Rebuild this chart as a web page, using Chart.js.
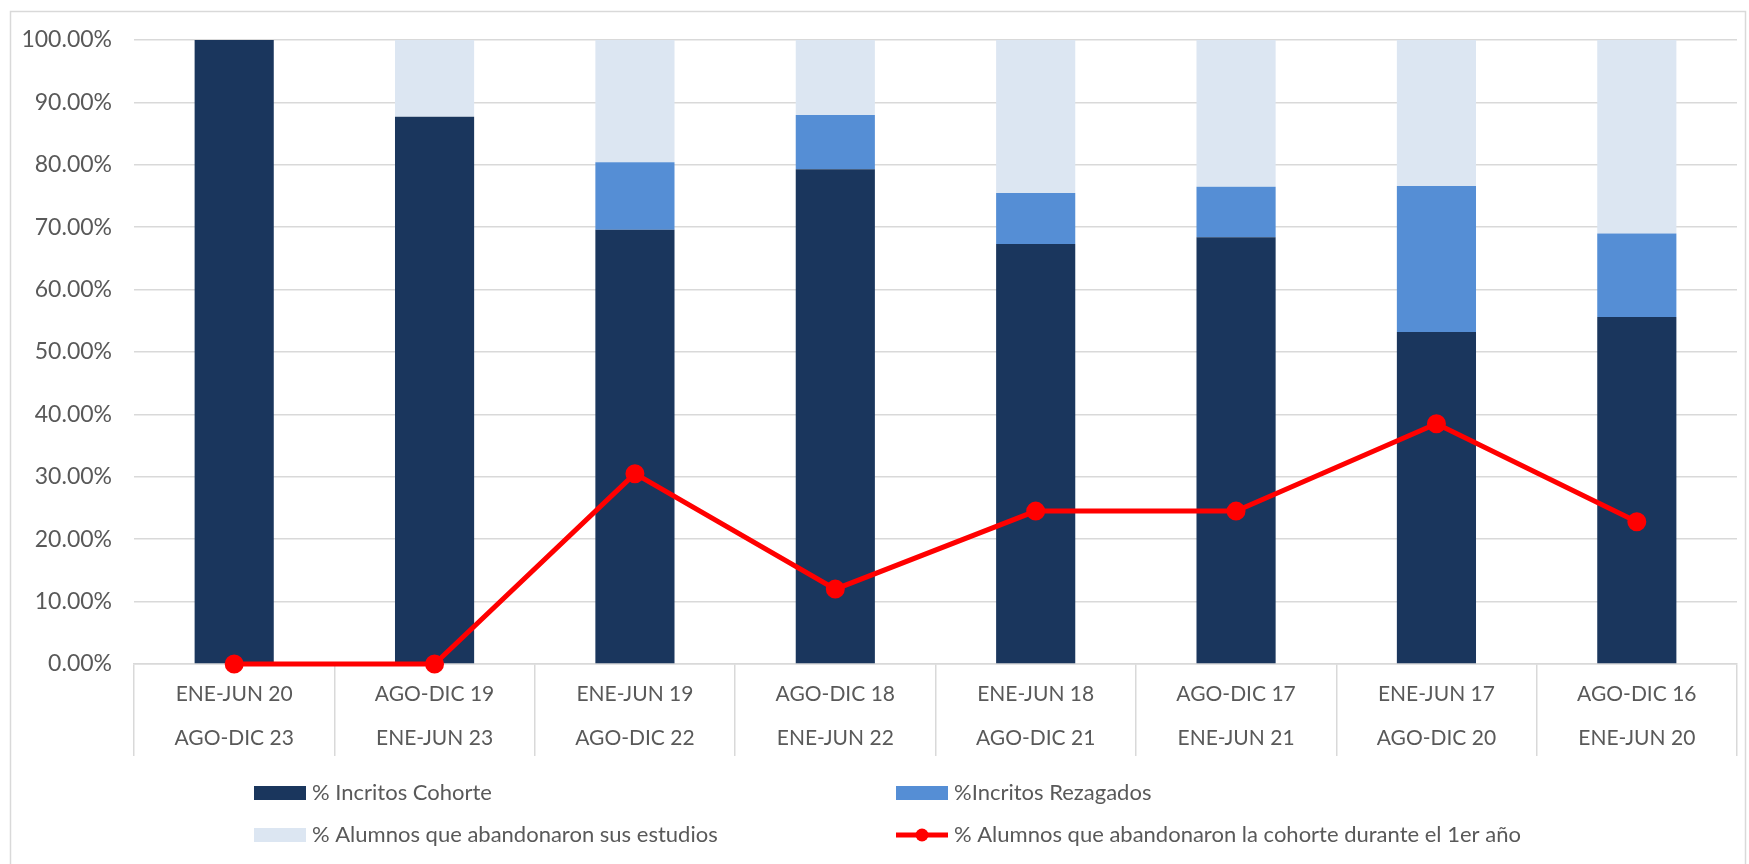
<!DOCTYPE html>
<html>
<head>
<meta charset="utf-8">
<script src="https://cdn.jsdelivr.net/npm/chart.js@4"></script>
<style>
  html, body { margin: 0; padding: 0; background: #fff; }
  #wrap { width: 1749px; height: 864px; position: relative; }
</style>
</head>
<body>
<div id="wrap"><canvas id="chart"></canvas></div>
<script>
const periods = [
    ['ENE-JUN 20', 'AGO-DIC 23'],
    ['AGO-DIC 19', 'ENE-JUN 23'],
    ['ENE-JUN 19', 'AGO-DIC 22'],
    ['AGO-DIC 18', 'ENE-JUN 22'],
    ['ENE-JUN 18', 'AGO-DIC 21'],
    ['AGO-DIC 17', 'ENE-JUN 21'],
    ['ENE-JUN 17', 'AGO-DIC 20'],
    ['AGO-DIC 16', 'ENE-JUN 20']
];
const inscritosCohorte = [100, 87.7, 69.6, 79.3, 67.3, 68.4, 53.2, 55.6];
const inscritosRezagados = [0, 0, 10.8, 8.7, 8.2, 8.1, 23.4, 13.4];
const abandonaronEstudios = [0, 12.3, 19.6, 12.0, 24.5, 23.5, 23.4, 31.0];
const abandonoPrimerAnio = [0, 0, 30.5, 12.0, 24.5, 24.5, 38.5, 22.8];
const yTicks = [0, 10, 20, 30, 40, 50, 60, 70, 80, 90, 100];

const FONT = 'Lato, "Open Sans", sans-serif';
const GRAY = '#595959';
const GRID = '#d9d9d9';

// caja exterior del gráfico
const frameBorder = {
    id: 'frameBorder',
    beforeDraw(chart) {
        const { ctx } = chart;
        ctx.save();
        ctx.strokeStyle = GRID;
        ctx.lineWidth = 1.5;
        ctx.strokeRect(10.5, 11.5, chart.width - 14, chart.height + 20);
        ctx.restore();
    }
};

// leyenda en 2 columnas x 2 filas
const gridLegend = {
    id: 'gridLegend',
    afterDraw(chart) {
        const { ctx } = chart;
        const ds = chart.data.datasets;
        const cols = [254, 896];
        const rows = [793, 835];
        ctx.save();
        ctx.font = '22px ' + FONT;
        ctx.textBaseline = 'middle';
        ds.forEach((d, i) => {
            const x = cols[i % 2];
            const y = rows[Math.floor(i / 2)];
            if (d.type === 'line') {
                ctx.strokeStyle = d.borderColor;
                ctx.lineWidth = 5;
                ctx.beginPath();
                ctx.moveTo(x, y);
                ctx.lineTo(x + 52, y);
                ctx.stroke();
                ctx.fillStyle = d.borderColor;
                ctx.beginPath();
                ctx.arc(x + 26, y, 6.5, 0, Math.PI * 2);
                ctx.fill();
            } else {
                ctx.fillStyle = d.backgroundColor;
                ctx.fillRect(x, y - 7, 52, 14);
            }
            ctx.fillStyle = GRAY;
            ctx.fillText(d.label, x + 58, y);
        });
        ctx.restore();
    }
};

new Chart(document.getElementById('chart'), {
    type: 'bar',
    data: {
        labels: periods,
        datasets: [
            {
                label: '% Incritos Cohorte',
                data: inscritosCohorte,
                backgroundColor: '#1a365d',
                order: 1,
                stack: 'bars',
                barPercentage: 0.79,
                categoryPercentage: 0.5
            },
            {
                label: '%Incritos Rezagados',
                data: inscritosRezagados,
                backgroundColor: '#558ed5',
                order: 1,
                stack: 'bars',
                barPercentage: 0.79,
                categoryPercentage: 0.5
            },
            {
                label: '% Alumnos que abandonaron sus estudios',
                data: abandonaronEstudios,
                backgroundColor: '#dce6f2',
                order: 1,
                stack: 'bars',
                barPercentage: 0.79,
                categoryPercentage: 0.5
            },
            {
                type: 'line',
                label: '% Alumnos que abandonaron la cohorte durante el 1er año',
                data: abandonoPrimerAnio,
                borderColor: '#ff0000',
                backgroundColor: '#ff0000',
                borderWidth: 5,
                pointRadius: 7,
                pointHoverRadius: 7,
                tension: 0,
                clip: false,
                order: 0,
                stack: 'line'
            }
        ]
    },
    options: {
        responsive: true,
        maintainAspectRatio: false,
        animation: false,
        layout: {
            padding: { left: 0, right: 12, top: 40, bottom: 108 }
        },
        scales: {
            x: {
                stacked: true,
                offset: true,
                grid: {
                    offset: true,
                    drawOnChartArea: false,
                    drawTicks: true,
                    tickLength: 92,
                    color: GRID,
                    lineWidth: 1.5
                },
                border: { color: GRID, width: 1.5 },
                ticks: {
                    color: GRAY,
                    font: { family: FONT, size: 21, lineHeight: 2.1 },
                    padding: -84,
                    maxRotation: 0
                },
                afterFit(scale) { scale.height = 92; }
            },
            y: {
                stacked: true,
                min: 0,
                max: 100,
                afterBuildTicks(scale) {
                    scale.ticks = yTicks.map(v => ({ value: v }));
                },
                grid: { color: GRID, lineWidth: 1.5, drawTicks: false },
                border: { display: false },
                ticks: {
                    color: GRAY,
                    font: { family: FONT, size: 23 },
                    padding: 22,
                    callback: v => v.toFixed(2) + '%'
                },
                afterFit(scale) { scale.width = 134; }
            }
        },
        plugins: {
            legend: { display: false },
            tooltip: { enabled: false }
        }
    },
    plugins: [frameBorder, gridLegend]
});
</script>
</body>
</html>
